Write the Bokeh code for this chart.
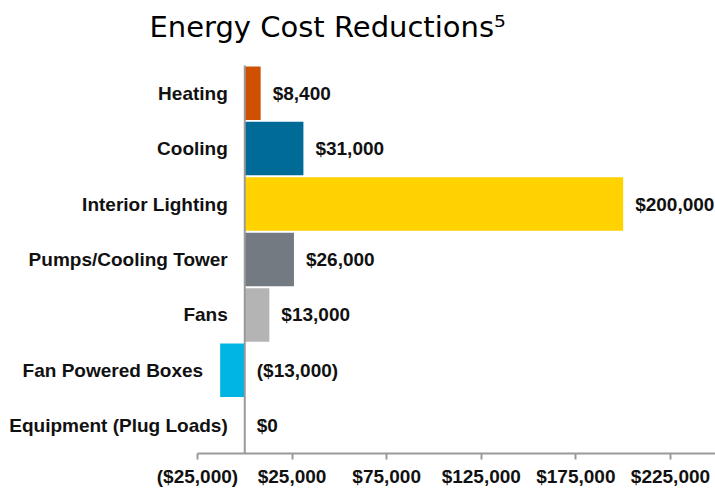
from bokeh.plotting import figure
from bokeh.models import ColumnDataSource, Range1d, FixedTicker, LinearAxis
from bokeh.core.properties import value
from bokeh.embed import file_html
from bokeh.resources import INLINE

categories = ["Heating", "Cooling", "Interior Lighting", "Pumps/Cooling Tower",
              "Fans", "Fan Powered Boxes", "Equipment (Plug Loads)"]
savings = [8400, 31000, 200000, 26000, 13000, -13000, 0]
bar_colors = ["#CF5000", "#006B96", "#FFD200", "#737A82", "#B4B4B4", "#00B4E3", "#999999"]
tick_values = [-25000, 25000, 75000, 125000, 175000, 225000]
title_text = "Energy Cost Reductions\u2075"


def money(v):
    return f"${v:,.0f}" if v >= 0 else f"(${-v:,.0f})"


n = len(categories)
src = ColumnDataSource(dict(
    cat=categories,
    v=savings,
    y=[n - 1 - i for i in range(n)],
    color=bar_colors,
    label=[money(v) for v in savings],
    lab_x=[max(v, 0) for v in savings],
    cat_x=[min(v, 0) for v in savings],
))

X_START, X_END = -129100, 248800

p = figure(width=715, height=489, output_backend="svg", toolbar_location=None,
           x_range=Range1d(X_START, X_END), y_range=Range1d(-0.5, n - 0.23),
           x_axis_type=None, y_axis_type=None,
           min_border_left=0, min_border_right=0, min_border_top=0, min_border_bottom=0)
p.outline_line_color = None
p.xgrid.visible = False
p.ygrid.visible = False
p.background_fill_color = "white"
p.border_fill_color = "white"

p.title.text = title_text
p.title.align = "left"
p.title.offset = 149
p.title.text_font = "DejaVu Sans"
p.title.text_font_size = "29px"
p.title.text_font_style = "normal"
p.title.text_color = "#000000"
p.title.standoff = 14

p.hbar(y="y", left=0, right="v", height=0.965, fill_color="color", line_color=None, source=src)

# vertical zero axis line
p.segment(x0=[0], y0=[-0.5], x1=[0], y1=[n - 0.5], line_color="#9a9a9a", line_width=2)

p.text(x="lab_x", y="y", text="label", source=src, x_offset=12,
       text_align="left", text_baseline="middle",
       text_font=value("Liberation Sans"), text_font_style="bold",
       text_font_size="19px", text_color="#111111")
p.text(x="cat_x", y="y", text="cat", source=src, x_offset=-17,
       text_align="right", text_baseline="middle",
       text_font=value("Liberation Sans"), text_font_style="bold",
       text_font_size="19px", text_color="#111111")

xaxis = LinearAxis(ticker=FixedTicker(ticks=tick_values), bounds=(tick_values[0], X_END),
                   major_label_overrides={t: money(t) for t in tick_values})
xaxis.axis_line_color = "#9a9a9a"
xaxis.axis_line_width = 2
xaxis.major_tick_line_color = "#9a9a9a"
xaxis.major_tick_line_width = 2
xaxis.major_tick_out = 6
xaxis.major_tick_in = 0
xaxis.minor_tick_out = 0
xaxis.minor_tick_in = 0
xaxis.major_label_standoff = 6
xaxis.major_label_text_font = "Liberation Sans"
xaxis.major_label_text_font_style = "bold"
xaxis.major_label_text_font_size = "19px"
xaxis.major_label_text_color = "#111111"
p.add_layout(xaxis, "below")

open("out.html", "w").write(file_html(p, INLINE))
